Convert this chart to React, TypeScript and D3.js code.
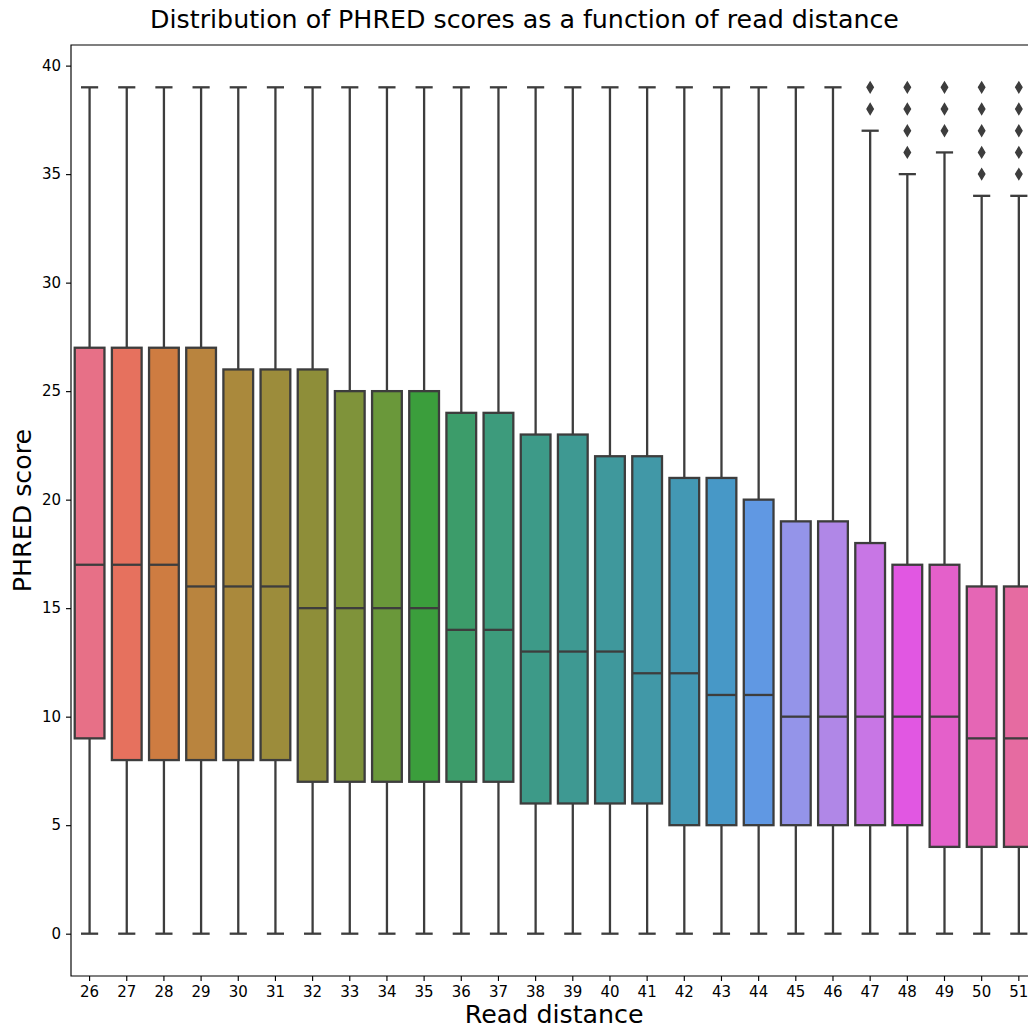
import React, { useEffect, useRef } from "react";
import * as d3 from "d3";

// Read distance categories and box statistics (PHRED score)
const distances = [26, 27, 28, 29, 30, 31, 32, 33, 34, 35, 36, 37, 38, 39, 40, 41, 42, 43, 44, 45, 46, 47, 48, 49, 50, 51];
const whiskerLow = [0, 0, 0, 0, 0, 0, 0, 0, 0, 0, 0, 0, 0, 0, 0, 0, 0, 0, 0, 0, 0, 0, 0, 0, 0, 0];
const q1 = [9, 8, 8, 8, 8, 8, 7, 7, 7, 7, 7, 7, 6, 6, 6, 6, 5, 5, 5, 5, 5, 5, 5, 4, 4, 4];
const medians = [17, 17, 17, 16, 16, 16, 15, 15, 15, 15, 14, 14, 13, 13, 13, 12, 12, 11, 11, 10, 10, 10, 10, 10, 9, 9];
const q3 = [27, 27, 27, 27, 26, 26, 26, 25, 25, 25, 24, 24, 23, 23, 22, 22, 21, 21, 20, 19, 19, 18, 17, 17, 16, 16];
const whiskerHigh = [39, 39, 39, 39, 39, 39, 39, 39, 39, 39, 39, 39, 39, 39, 39, 39, 39, 39, 39, 39, 39, 37, 35, 36, 34, 34];
const outliers: number[][] = [
  [], [], [], [], [], [], [], [], [], [], [], [], [], [], [], [], [], [], [], [], [],
  [38, 39],
  [36, 37, 38, 39],
  [37, 38, 39],
  [35, 36, 37, 38, 39],
  [35, 36, 37, 38, 39],
];
const yTicks = [0, 5, 10, 15, 20, 25, 30, 35, 40];

// --- HUSL colour conversion (seaborn's husl palette) ---
const M = [
  [3.2406, -1.5372, -0.4986],
  [-0.9689, 1.8758, 0.0415],
  [0.0557, -0.204, 1.057],
];
const refY = 1.0;
const refU = 0.19784;
const refV = 0.46834;
const kappa = 24389 / 27;
const epsilon = 216 / 24389;

function maxChroma(L: number, H: number) {
  const hrad = (H / 180) * Math.PI;
  const sinH = Math.sin(hrad);
  const cosH = Math.cos(hrad);
  const sub1 = Math.pow(L + 16, 3) / 1560896;
  const sub2 = sub1 > epsilon ? sub1 : L / kappa;
  let result = Infinity;
  for (const [m1, m2, m3] of M) {
    const top = (0.99915 * m1 + 1.05122 * m2 + 1.1446 * m3) * sub2;
    const rbottom = 0.8633 * m3 - 0.17266 * m2;
    const lbottom = 0.12949 * m3 - 0.38848 * m1;
    const bottom = (rbottom * sinH + lbottom * cosH) * sub2;
    for (const t of [0, 1]) {
      const C = (L * (top - 1.05122 * t)) / (bottom + 0.17266 * sinH * t);
      if (C > 0 && C < result) result = C;
    }
  }
  return result;
}

function fInv(t: number) {
  return Math.pow(t, 3) > epsilon ? Math.pow(t, 3) : (116 * t - 16) / kappa;
}

function fromLinear(c: number) {
  return c <= 0.0031308 ? 12.92 * c : 1.055 * Math.pow(c, 1 / 2.4) - 0.055;
}

function huslToRgb(H: number, S: number, L: number): [number, number, number] {
  const C = (maxChroma(L, H) / 100) * S;
  const hrad = (H / 180) * Math.PI;
  const U = Math.cos(hrad) * C;
  const V = Math.sin(hrad) * C;
  const varY = fInv((L + 16) / 116);
  const varU = U / (13 * L) + refU;
  const varV = V / (13 * L) + refV;
  const Y = varY * refY;
  const X = 0 - (9 * Y * varU) / ((varU - 4) * varV - varU * varV);
  const Z = (9 * Y - 15 * varV * Y - varV * X) / (3 * varV);
  const xyz = [X, Y, Z];
  return M.map((row) => fromLinear(row[0] * xyz[0] + row[1] * xyz[1] + row[2] * xyz[2])) as [number, number, number];
}

function huslPalette(n: number, h = 0.01, s = 0.9, l = 0.62) {
  const out: d3.HSLColor[] = [];
  for (let i = 0; i < n; i++) {
    const hue = (((i / n) + h) % 1) * 359;
    const [r, g, b] = huslToRgb(hue, s * 99, l * 99);
    const c = d3.hsl(d3.rgb(
      Math.max(0, Math.min(1, r)) * 255,
      Math.max(0, Math.min(1, g)) * 255,
      Math.max(0, Math.min(1, b)) * 255,
    ));
    c.s *= 0.8; // slightly muted box fill
    out.push(c);
  }
  return out;
}

const WIDTH = 1028;
const HEIGHT = 1028;
const margin = { left: 71, top: 45, bottom: 976 };
const STEP = 37.17;
const FONT = "'DejaVu Sans', sans-serif";

export default function App() {
  const ref = useRef<SVGSVGElement | null>(null);

  useEffect(() => {
    const svg = d3.select(ref.current);
    svg.selectAll("*").remove();

    const palette = huslPalette(distances.length);
    const gray = "#3d3d3d";

    const x = d3
      .scaleBand<number>()
      .domain(distances)
      .range([margin.left, margin.left + STEP * distances.length])
      .paddingInner(0)
      .paddingOuter(0);
    const y = d3.scaleLinear().domain([-1.95, 40.95]).range([margin.bottom, margin.top]);

    const bw = x.bandwidth() * 0.8;
    const capW = bw * 0.5;
    const lw = 2.3;

    const g = svg.append("g");

    distances.forEach((d, i) => {
      const cx = x(d)! + x.bandwidth() / 2;
      const grp = g.append("g");
      // whiskers
      grp.append("line")
        .attr("x1", cx).attr("x2", cx)
        .attr("y1", y(q1[i])).attr("y2", y(whiskerLow[i]))
        .attr("stroke", gray).attr("stroke-width", lw);
      grp.append("line")
        .attr("x1", cx).attr("x2", cx)
        .attr("y1", y(q3[i])).attr("y2", y(whiskerHigh[i]))
        .attr("stroke", gray).attr("stroke-width", lw);
      // caps
      [whiskerLow[i], whiskerHigh[i]].forEach((v) => {
        grp.append("line")
          .attr("x1", cx - capW / 2).attr("x2", cx + capW / 2)
          .attr("y1", y(v)).attr("y2", y(v))
          .attr("stroke", gray).attr("stroke-width", lw)
          .attr("stroke-linecap", "square");
      });
      // box
      grp.append("rect")
        .attr("x", cx - bw / 2)
        .attr("y", y(q3[i]))
        .attr("width", bw)
        .attr("height", y(q1[i]) - y(q3[i]))
        .attr("fill", palette[i].formatHex())
        .attr("stroke", gray)
        .attr("stroke-width", lw);
      // median
      grp.append("line")
        .attr("x1", cx - bw / 2).attr("x2", cx + bw / 2)
        .attr("y1", y(medians[i])).attr("y2", y(medians[i]))
        .attr("stroke", gray).attr("stroke-width", lw);
      // outliers
      const dh = 5.3;
      const dw = dh * 0.6;
      outliers[i].forEach((v) => {
        grp.append("path")
          .attr("d", `M0,${-dh}L${dw},0L0,${dh}L${-dw},0Z`)
          .attr("transform", `translate(${cx},${y(v)})`)
          .attr("fill", gray)
          .attr("stroke", gray)
          .attr("stroke-width", 1.4);
      });
    });

    // axes
    const yAxis = svg.append("g")
      .attr("transform", `translate(${margin.left},0)`)
      .call(d3.axisLeft(y).tickValues(yTicks).tickSize(5).tickPadding(5).tickSizeOuter(0));
    const xAxis = svg.append("g")
      .attr("transform", `translate(0,${margin.bottom})`)
      .call(d3.axisBottom(x).tickSize(5).tickPadding(5).tickSizeOuter(0));
    [xAxis, yAxis].forEach((ax) => {
      ax.select(".domain").remove();
      ax.selectAll("line").attr("stroke", "#000").attr("stroke-width", 1.15);
      ax.selectAll("text")
        .attr("fill", "#000")
        .style("font-family", FONT)
        .style("font-size", "15px");
    });

    // spines
    const right = margin.left + STEP * distances.length;
    svg.append("path")
      .attr("d", `M${right},${margin.top}H${margin.left}V${margin.bottom}H${right}`)
      .attr("fill", "none")
      .attr("stroke", "#000")
      .attr("stroke-width", 1.15)
      .attr("stroke-linecap", "square");

    // title and labels
    svg.append("text")
      .attr("x", 524.5).attr("y", 28.3)
      .attr("text-anchor", "middle")
      .style("font-family", FONT).style("font-size", "25.3px")
      .text("Distribution of PHRED scores as a function of read distance");
    svg.append("text")
      .attr("x", (margin.left + right) / 2).attr("y", 1023)
      .attr("text-anchor", "middle")
      .style("font-family", FONT).style("font-size", "25.3px")
      .text("Read distance");
    svg.append("text")
      .attr("transform", `translate(31,${(margin.top + margin.bottom) / 2}) rotate(-90)`)
      .attr("text-anchor", "middle")
      .style("font-family", FONT).style("font-size", "25.3px")
      .text("PHRED score");
  }, []);

  return (
    <div style={{ position: "absolute", left: 0, top: 0 }}>
      <svg ref={ref} width={WIDTH} height={HEIGHT} style={{ display: "block", background: "#fff" }} />
    </div>
  );
}
